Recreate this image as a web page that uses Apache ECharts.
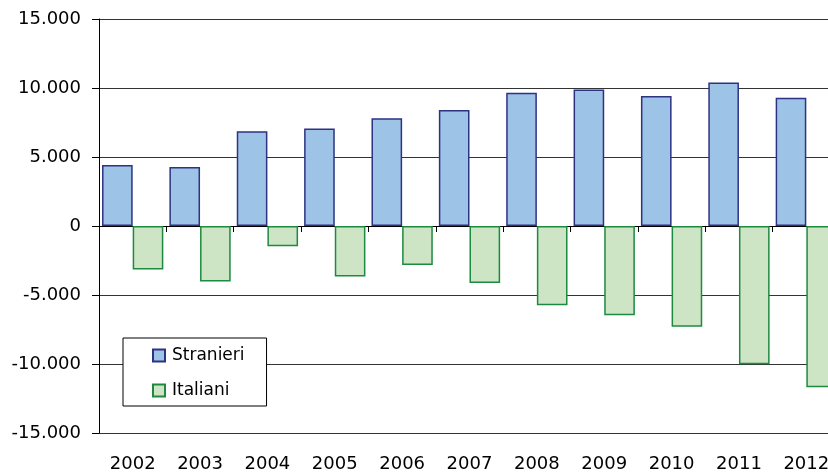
<!DOCTYPE html>
<html><head><meta charset="utf-8">
<script src="https://cdn.jsdelivr.net/npm/echarts@6/dist/echarts.min.js"></script>
<style>html,body{margin:0;padding:0;background:#fff;}#c{width:828px;height:472px;}</style>
</head><body><div id="c"></div>
<script>
var years = ['2002','2003','2004','2005','2006','2007','2008','2009','2010','2011','2012'];
var stranieri = [4420, 4270, 6860, 7060, 7800, 8400, 9650, 9900, 9420, 10400, 9300];
var italiani = [-3150, -4030, -1470, -3660, -2820, -4130, -5740, -6470, -7300, -10020, -11680];
var yTicks = [-15000, -10000, -5000, 0, 5000, 10000, 15000];

function fmt(v){
  var s = Math.abs(v).toString();
  var out = s.replace(/\B(?=(\d{3})+(?!\d))/g, '.');
  return (v < 0 ? '-' : '') + out;
}
var FONT = 'DejaVu Sans';
var chart = echarts.init(document.getElementById('c'), null, {renderer:'canvas'});
chart.setOption({
  animation:false,
  backgroundColor:'#fff',
  textStyle:{fontFamily:FONT},
  grid:{left:99, right:-12, top:19, bottom:39, containLabel:false, outerBoundsMode:'none'},
  legend:{
    orient:'vertical', left:123, top:338,
    padding:[9,22,7,29], itemGap:18,
    backgroundColor:'#fff', borderColor:'#000', borderWidth:1,
    itemWidth:12, itemHeight:12,
    textStyle:{fontFamily:FONT, fontSize:17, color:'#000', padding:[0,0,0,2]},
    data:[
      {name:'Stranieri', icon:'rect'},
      {name:'Italiani', icon:'rect'}
    ]
  },
  xAxis:[{
    type:'category', data:years, position:'bottom',
    axisLine:{onZero:true, lineStyle:{color:'#000', width:1}},
    axisTick:{show:true, length:6, lineStyle:{color:'#000'}},
    axisLabel:{show:false},
    splitLine:{show:false}
  },{
    type:'category', data:years, position:'bottom', offset:0,
    axisLine:{show:false, onZero:false},
    axisTick:{show:false},
    axisLabel:{show:true, margin:22, fontSize:18, color:'#000', fontFamily:FONT},
    splitLine:{show:false}
  }],
  yAxis:{
    type:'value', min:-15000, max:15000, interval:5000,
    axisLine:{show:true, lineStyle:{color:'#000'}},
    axisTick:{show:true, length:7, lineStyle:{color:'#000'}},
    axisLabel:{margin:18, fontSize:18, color:'#000', fontFamily:FONT,
      formatter:function(v){ return yTicks.indexOf(v) >= 0 ? fmt(v) : ''; }},
    splitLine:{show:true, lineStyle:{color:'#333', width:1}}
  },
  series:[
    {name:'Stranieri', type:'bar', data:stranieri, barGap:'0%', barCategoryGap:'9%',
      itemStyle:{color:'#9DC3E6', borderColor:'#2E3283', borderWidth:1.5}},
    {name:'Italiani', type:'bar', data:italiani, barGap:'0%', barCategoryGap:'9%',
      itemStyle:{color:'#CDE5C4', borderColor:'#1E8A40', borderWidth:1.5}}
  ]
});
</script></body></html>
